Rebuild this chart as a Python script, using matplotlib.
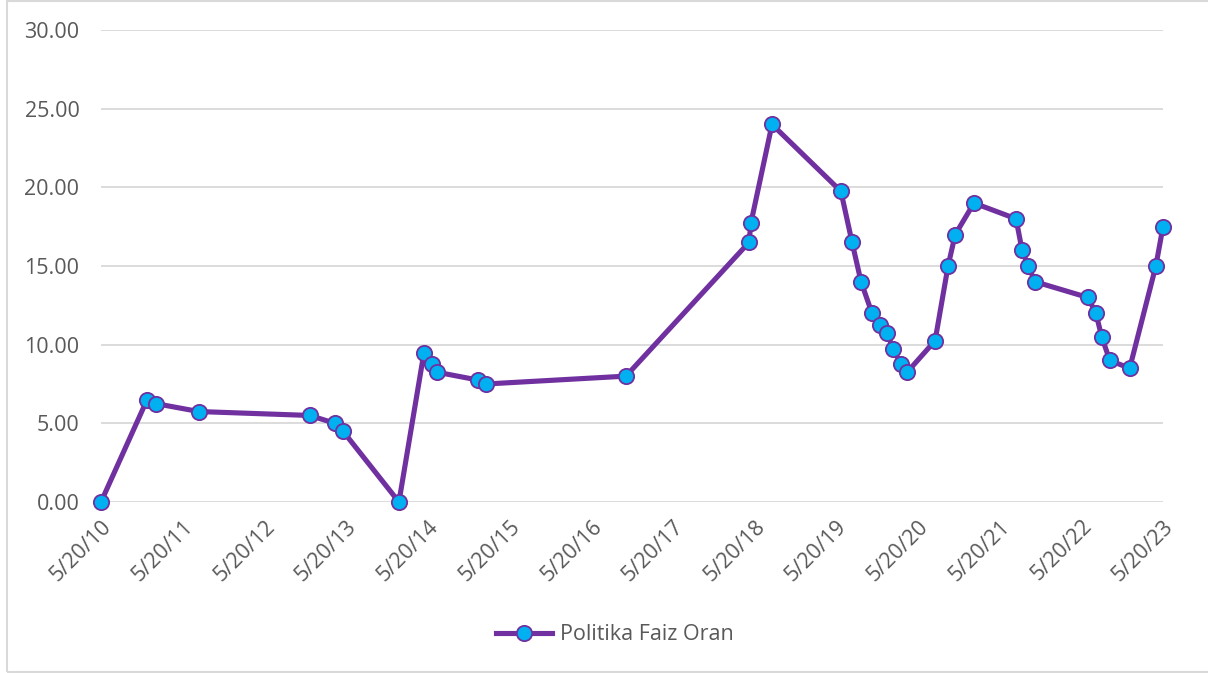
import datetime
import matplotlib
matplotlib.use("Agg")
import matplotlib.pyplot as plt
from matplotlib.patches import Rectangle

dates = ["2010-05-20", "2010-12-12", "2011-01-21", "2011-07-31", "2012-12-09",
         "2013-03-31", "2013-05-06", "2014-01-11", "2014-05-03", "2014-06-08",
         "2014-06-30", "2014-12-31", "2015-02-04", "2016-10-22", "2018-04-25",
         "2018-05-04", "2018-08-06", "2019-06-10", "2019-07-30", "2019-09-08",
         "2019-10-27", "2019-12-02", "2020-01-02", "2020-01-29", "2020-03-05",
         "2020-04-01", "2020-08-04", "2020-10-01", "2020-11-02", "2021-01-25",
         "2021-08-01", "2021-08-28", "2021-09-24", "2021-10-25", "2022-06-18",
         "2022-07-24", "2022-08-19", "2022-09-24", "2022-12-22", "2023-04-18",
         "2023-05-20"]
rates = [0.00, 6.50, 6.25, 5.75, 5.50,
         5.00, 4.50, 0.00, 9.50, 8.75,
         8.25, 7.75, 7.50, 8.00, 16.50,
         17.75, 24.00, 19.75, 16.50, 14.00,
         12.00, 11.25, 10.75, 9.75, 8.75,
         8.25, 10.25, 15.00, 17.00, 19.00,
         18.00, 16.00, 15.00, 14.00, 13.00,
         12.00, 10.50, 9.00, 8.50, 15.00,
         17.50]
tick_years = list(range(2010, 2024))
series_name = "Politika Faiz Oran"

x = [datetime.datetime.strptime(d, "%Y-%m-%d") for d in dates]
ticks = [datetime.datetime(y, 5, 20) for y in tick_years]
tick_labels = [t.strftime("%-m/%d/%y") for t in ticks]

plt.rcParams['font.family'] = ['Open Sans', 'DejaVu Sans']
txt = '#595959'

W, H = 1208, 673
fig = plt.figure(figsize=(W / 100, H / 100), dpi=100)
fig.patch.set_facecolor('w')
fig.patches.append(Rectangle((7 / W, 1 / H), 1.2, (H - 2) / H, transform=fig.transFigure,
                             fill=False, edgecolor='#d9d9d9', linewidth=1.5))

ax = fig.add_axes([101 / W, 1 - 502 / H, (1163 - 101) / W, (502 - 30) / H])
ax.plot(x, rates, color='#7030A0', linewidth=3.7, marker='o', markersize=11,
        markerfacecolor='#00B0F0', markeredgecolor='#7030A0', markeredgewidth=1.3,
        clip_on=False, zorder=3, label=series_name)

ax.set_xlim(ticks[0], ticks[-1])
ax.set_ylim(0, 30)
ax.set_yticks(range(0, 31, 5))
ax.set_yticklabels([f"{v:.2f}" for v in range(0, 31, 5)])
ax.set_xticks(ticks)
ax.set_xticklabels(tick_labels, rotation=45, ha='right', va='top', rotation_mode='anchor')

for s in ax.spines.values():
    s.set_visible(False)
ax.grid(axis='y', color='#d9d9d9', linewidth=1.3)
ax.set_axisbelow(True)
ax.tick_params(axis='both', length=0, labelsize=15.5, colors=txt)
ax.tick_params(axis='y', pad=15.5)
ax.tick_params(axis='x', pad=10)

leg = fig.legend(loc='center', bbox_to_anchor=(615 / W, 1 - 635 / H), frameon=False,
                 fontsize=15.5, handlelength=2.6, handletextpad=0.4)
for t in leg.get_texts():
    t.set_color(txt)

plt.savefig('out.png', dpi=100)
